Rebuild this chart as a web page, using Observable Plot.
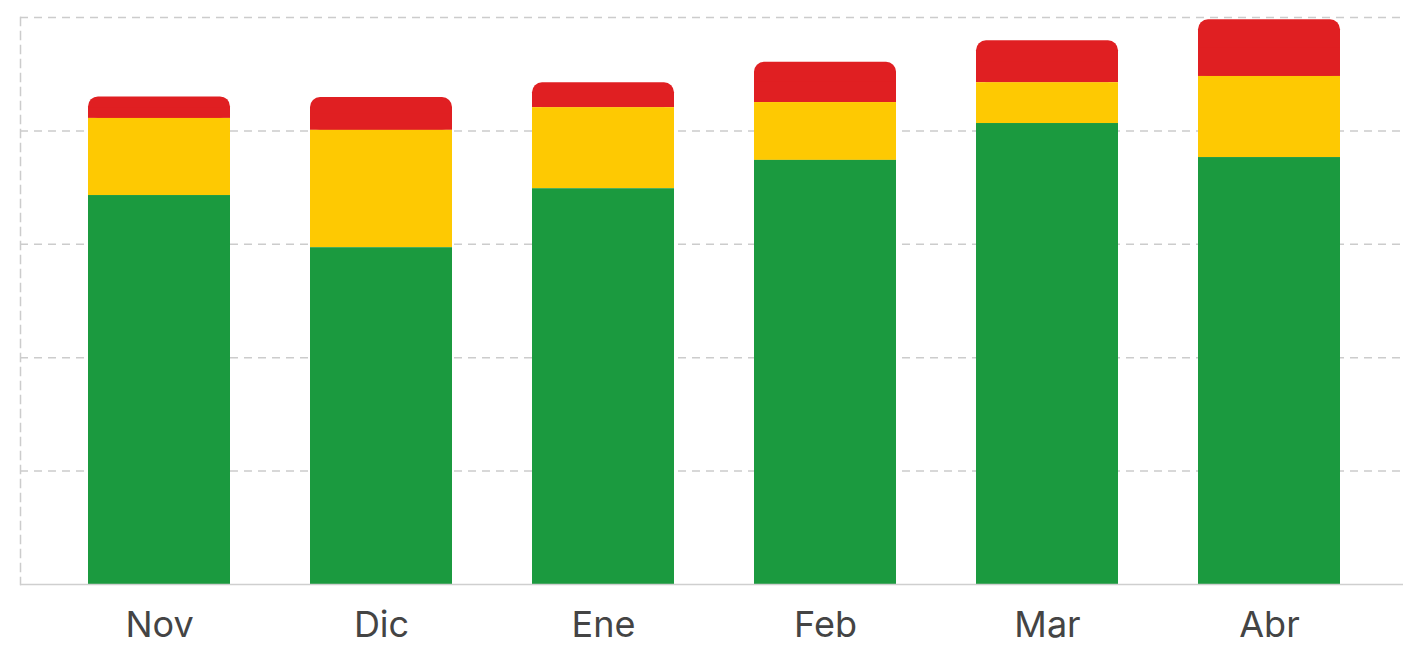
<!DOCTYPE html>
<html>
<head>
<meta charset="utf-8">
<script src="https://cdn.jsdelivr.net/npm/d3@7"></script>
<script src="https://cdn.jsdelivr.net/npm/@observablehq/plot@0.6"></script>
<style>
  html, body { margin: 0; padding: 0; background: #fff; }
  #chart svg { display: block; }
</style>
</head>
<body>
<div id="chart"></div>
<script>
const months = ["Nov", "Dic", "Ene", "Feb", "Mar", "Abr"];
const greenValues  = [68.6, 59.4, 69.8, 74.8, 81.3, 75.3];
const yellowValues = [13.6, 20.7, 14.3, 10.2, 7.2, 14.3];
const redValues    = [3.8, 5.8, 4.4, 7.1, 7.4, 10.0];
const gridTicks = [20, 40, 60, 80, 100];

const colors = { green: "#1b9a3f", yellow: "#fec902", red: "#e01f22" };

const rows = months.map((m, i) => {
  const g = greenValues[i], yv = yellowValues[i], r = redValues[i];
  return {
    month: m,
    g0: 0, g1: g,
    y0: g, y1: g + yv,
    r0: g + yv, r1: g + yv + r,
    rMid: g + yv + r / 2
  };
});

const chart = Plot.plot({
  width: 1403,
  height: 649,
  marginLeft: 20,
  marginRight: 0,
  marginTop: 17,
  marginBottom: 65,
  style: { fontFamily: "Inter, 'Noto Sans', sans-serif", background: "#fff" },
  x: { domain: months, range: [21, 1408], paddingInner: 0.36, paddingOuter: 0.3, label: null },
  y: { domain: [0, 100], axis: null },
  marks: [
    Plot.ruleY(gridTicks, { stroke: "#cccccc", strokeWidth: 1.5, strokeDasharray: "8,6" }),
    Plot.frame({ anchor: "left", stroke: "#cccccc", strokeWidth: 1.5, strokeDasharray: "8,6" }),
    Plot.barY(rows, { x: "month", y1: "r0", y2: "r1", fill: colors.red, rx: 10 }),
    Plot.barY(rows, { x: "month", y1: "r0", y2: "rMid", fill: colors.red }),
    Plot.barY(rows, { x: "month", y1: "y0", y2: "y1", fill: colors.yellow }),
    Plot.barY(rows, { x: "month", y1: "g0", y2: "g1", fill: colors.green }),
    Plot.ruleY([0], { stroke: "#cfcfcf", strokeWidth: 1.5 }),
    Plot.axisX({ tickSize: 0, tickPadding: 27, fontSize: 36, color: "#444", label: null })
  ]
});

document.getElementById("chart").appendChild(chart);
</script>
</body>
</html>
